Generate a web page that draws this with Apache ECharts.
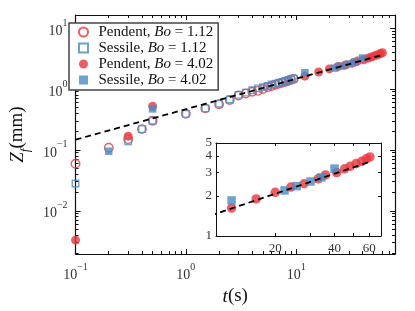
<!DOCTYPE html>
<html><head><meta charset="utf-8">
<script src="https://cdn.jsdelivr.net/npm/echarts@6/dist/echarts.min.js"></script>
<style>html,body{margin:0;padding:0;background:#fff}#c{width:415px;height:311px}</style>
</head><body><div id="c"></div>
<script>
// ---- data (t in s, Z_f in mm) ----
const tPend112 = [0.1,0.2,0.3,0.4,0.5,1,1.5,2,2.5,3,3.5,4,4.5,5,5.5,6,6.5,7,7.5,8,8.5,9,9.5];
const zPend112 = [0.059,0.108,0.150,0.219,0.30,0.39,0.48,0.56,0.66,0.78,0.84,0.90,0.93,1.0,1.07,1.12,1.17,1.22,1.27,1.31,1.36,1.41,1.46];
const tSess112 = [0.1,0.3,0.4,0.5,1,1.5,2,2.5,3,3.5,4,4.5,5,5.5,6,6.5,7,7.5,8,8.5,9,9.5];
const zSess112 = [0.028,0.138,0.219,0.30,0.39,0.48,0.57,0.67,0.80,0.87,0.95,1.02,1.07,1.12,1.18,1.22,1.26,1.30,1.35,1.39,1.44,1.49];
const tPend402 = [0.1,0.3,0.5,12,16,20,24,28,33,36,41,45,48,51.5,55,58,60.5];
const zPend402 = [0.0033,0.168,0.52,1.62,1.9,2.13,2.33,2.47,2.69,2.88,3.0,3.2,3.34,3.5,3.64,3.8,3.93];
const tSess402 = [0.2,0.5,12,22.3,25.7,30.2,34.3,40];
const zSess402 = [0.095,0.47,1.85,2.2,2.37,2.57,2.76,3.21];
const tFit = [0.1, 60];
const zFit = [0.147, 3.6];
const seriesNames = ['Pendent, Bo = 1.12','Sessile, Bo = 1.12','Pendent, Bo = 4.02','Sessile, Bo = 4.02'];
const mainXLabelExp = [-1, 0, 1];
const mainYLabelExp = [-2, -1, 0, 1];
const insetXLabels = [20, 40, 60];
const insetXTicks = [10, 20, 30, 40, 50, 60];
const insetYLabels = [1, 2, 3, 4, 5];

const L = Math.log10;
const RED = '#e8363c', BLUE = '#4a89c4', INK = '#111', LBL = '#333';
const FONT = "'Liberation Serif','DejaVu Serif',serif";
const SQUARE = 'path://M0,0L10,0L10,10L0,10Z';
const X_MIN = -1, X_MAX = 1.896, Y_MIN = -2.711, Y_MAX = 1.2135;
const IX_MIN = 1, IX_MAX = 1.838, IY_MIN = 0, IY_MAX = L(5);

function pts(t, z, tmin) {
  const r = [];
  for (let i = 0; i < t.length; i++) if (tmin === undefined || t[i] >= tmin) r.push([L(t[i]), L(z[i])]);
  return r;
}
function minors(d0, d1, lo, hi) {
  const r = [];
  for (let d = d0; d <= d1; d++) for (let k = 2; k <= 9; k++) { const v = d + L(k); if (v >= lo && v <= hi) r.push(v); }
  return r;
}
const supRich = {
  n: {fontFamily: FONT, fontSize: 14, lineHeight: 20, verticalAlign: 'bottom', color: LBL},
  s: {fontFamily: FONT, fontSize: 10, lineHeight: 10, verticalAlign: 'top', color: LBL}
};
const powFmt = v => '{n|10}{s|' + String(Math.round(v)).replace('-', '\u2212') + '}';
const lineSt = {color: INK, width: 1.2};

function ax(o) {
  const base = {
    type: 'value', splitLine: {show: false}, axisPointer: {show: false},
    axisLine: {show: false, onZero: false, lineStyle: lineSt},
    axisTick: {show: true, inside: true, length: 3, lineStyle: {color: INK, width: 1}},
    axisLabel: {show: false}
  };
  return Object.assign(base, o);
}
const xMajMain = mainXLabelExp;
const xMinMain = minors(-1, 1, X_MIN, X_MAX);
const yMajMain = mainYLabelExp;
const yMinMain = minors(-3, 1, Y_MIN, Y_MAX);
const ixTicks = insetXTicks.map(L);
const iyTicks = insetYLabels.map(L);

const xAxes = [
  ax({gridIndex: 0, position: 'bottom', min: X_MIN, max: X_MAX,
      axisLine: {show: true, onZero: false, lineStyle: lineSt},
      axisTick: {show: true, inside: true, length: 5, customValues: xMajMain, lineStyle: {color: INK, width: 1}},
      axisLabel: {show: true, customValues: xMajMain, formatter: powFmt, rich: supRich, margin: 8},
      name: '{i|t}{r|(s)}', nameLocation: 'middle', nameGap: 24,
      nameTextStyle: {rich: {i: {fontFamily: FONT, fontStyle: 'italic', fontSize: 19, color: INK}, r: {fontFamily: FONT, fontSize: 19, color: INK}}}}),
  ax({gridIndex: 0, position: 'bottom', min: X_MIN, max: X_MAX, axisTick: {show: true, inside: true, length: 3, customValues: xMinMain, lineStyle: {color: INK, width: 1}}}),
  ax({gridIndex: 0, position: 'top', min: X_MIN, max: X_MAX,
      axisLine: {show: true, onZero: false, lineStyle: lineSt},
      axisTick: {show: true, inside: true, length: 5, customValues: xMajMain, lineStyle: {color: INK, width: 1}}}),
  ax({gridIndex: 0, position: 'top', min: X_MIN, max: X_MAX, axisTick: {show: true, inside: true, length: 3, customValues: xMinMain, lineStyle: {color: INK, width: 1}}}),
  ax({gridIndex: 1, position: 'bottom', min: IX_MIN, max: IX_MAX, z: 12,
      axisLine: {show: true, onZero: false, lineStyle: {color: INK, width: 1}},
      axisTick: {show: true, inside: true, length: 3, customValues: ixTicks, lineStyle: {color: INK, width: 1}},
      axisLabel: {show: true, customValues: insetXLabels.map(L), formatter: v => String(Math.round(Math.pow(10, v))), fontFamily: FONT, fontSize: 13, color: LBL, margin: 6}}),
  ax({gridIndex: 1, position: 'top', min: IX_MIN, max: IX_MAX, z: 12,
      axisLine: {show: true, onZero: false, lineStyle: {color: INK, width: 1}},
      axisTick: {show: true, inside: true, length: 3, customValues: ixTicks, lineStyle: {color: INK, width: 1}}})
];
const yAxes = [
  ax({gridIndex: 0, position: 'left', min: Y_MIN, max: Y_MAX,
      axisLine: {show: true, onZero: false, lineStyle: lineSt},
      axisTick: {show: true, inside: true, length: 5, customValues: yMajMain, lineStyle: {color: INK, width: 1}},
      axisLabel: {show: true, customValues: yMajMain, formatter: powFmt, rich: supRich, margin: 8},
      name: '{i|Z}{sub|f}{r|(mm)}', nameLocation: 'middle', nameRotate: 90, nameGap: 29,
      nameTextStyle: {rich: {
        i: {fontFamily: FONT, fontStyle: 'italic', fontSize: 19, lineHeight: 24, verticalAlign: 'top', color: INK},
        sub: {fontFamily: FONT, fontStyle: 'italic', fontSize: 13, lineHeight: 13, verticalAlign: 'bottom', color: INK},
        r: {fontFamily: FONT, fontSize: 19, lineHeight: 24, verticalAlign: 'top', color: INK}}}}),
  ax({gridIndex: 0, position: 'left', min: Y_MIN, max: Y_MAX, axisTick: {show: true, inside: true, length: 3, customValues: yMinMain, lineStyle: {color: INK, width: 1}}}),
  ax({gridIndex: 0, position: 'right', min: Y_MIN, max: Y_MAX,
      axisLine: {show: true, onZero: false, lineStyle: lineSt},
      axisTick: {show: true, inside: true, length: 5, customValues: yMajMain, lineStyle: {color: INK, width: 1}}}),
  ax({gridIndex: 0, position: 'right', min: Y_MIN, max: Y_MAX, axisTick: {show: true, inside: true, length: 3, customValues: yMinMain, lineStyle: {color: INK, width: 1}}}),
  ax({gridIndex: 1, position: 'left', min: IY_MIN, max: IY_MAX, z: 12,
      axisLine: {show: true, onZero: false, lineStyle: {color: INK, width: 1}},
      axisTick: {show: true, inside: true, length: 3, customValues: iyTicks, lineStyle: {color: INK, width: 1}},
      axisLabel: {show: true, customValues: iyTicks, formatter: v => String(Math.round(Math.pow(10, v))), fontFamily: FONT, fontSize: 13, color: LBL, margin: 4}}),
  ax({gridIndex: 1, position: 'right', min: IY_MIN, max: IY_MAX, z: 12,
      axisLine: {show: true, onZero: false, lineStyle: {color: INK, width: 1}},
      axisTick: {show: true, inside: true, length: 3, customValues: iyTicks, lineStyle: {color: INK, width: 1}}})
];

const openRed = {color: 'rgba(255,255,255,0)', borderColor: RED, borderWidth: 1.4};
const openBlue = {color: 'rgba(255,255,255,0)', borderColor: BLUE, borderWidth: 1.4};
const dashed = {color: '#000', width: 1.8, type: [6, 4]};

function sc(name, xi, yi, data, symbol, size, style, z) {
  return {type: 'scatter', name, xAxisIndex: xi, yAxisIndex: yi, data, symbol, symbolSize: size, symbolKeepAspect: true, itemStyle: style, z, silent: true};
}
const series = [
  sc(seriesNames[0], 0, 0, pts(tPend112, zPend112), 'circle', 8.5, openRed, 2),
  sc(seriesNames[1], 0, 0, pts(tSess112, zSess112), SQUARE, 6.5, openBlue, 3),
  sc(seriesNames[2], 0, 0, pts(tPend402, zPend402), 'circle', 9, {color: RED}, 4),
  sc(seriesNames[3], 0, 0, pts(tSess402, zSess402), SQUARE, 7.5, {color: BLUE}, 5),
  {type: 'line', name: 'fit', xAxisIndex: 0, yAxisIndex: 0, data: pts(tFit, zFit), showSymbol: false, symbol: 'none', lineStyle: dashed, z: 6, silent: true},
  sc(seriesNames[2], 4, 4, pts(tPend402, zPend402, 10), 'circle', 9.5, {color: RED}, 14),
  sc(seriesNames[3], 4, 4, pts(tSess402, zSess402, 10), SQUARE, 8.5, {color: BLUE}, 15),
  {type: 'line', name: 'fit', xAxisIndex: 4, yAxisIndex: 4, data: pts(tFit, zFit), showSymbol: false, symbol: 'none', lineStyle: dashed, z: 16, silent: true, clip: true}
];

const chart = echarts.init(document.getElementById('c'), null, {renderer: 'canvas'});
chart.setOption({
  animation: false,
  backgroundColor: '#fff',
  grid: [
    {left: 62, top: 15, width: 333, height: 250, containLabel: false},
    {left: 216, top: 143, width: 165, height: 93, show: true, backgroundColor: '#fff', borderWidth: 0, z: 10, containLabel: false}
  ],
  legend: {
    data: seriesNames, orient: 'vertical', left: 69, top: 23,
    padding: [1, 5, 2, 9], itemWidth: 20, itemHeight: 9, itemGap: 0, symbolKeepAspect: true,
    borderColor: '#444', borderWidth: 1.5, backgroundColor: '#fff', z: 20,
    formatter: n => n.replace('Bo', '{i|Bo}'),
    textStyle: {fontFamily: FONT, fontSize: 15, lineHeight: 16, color: INK,
      rich: {i: {fontFamily: FONT, fontStyle: 'italic', fontSize: 15, lineHeight: 16, color: INK}}},
    selectedMode: false
  },
  xAxis: xAxes,
  yAxis: yAxes,
  series
});
</script></body></html>
